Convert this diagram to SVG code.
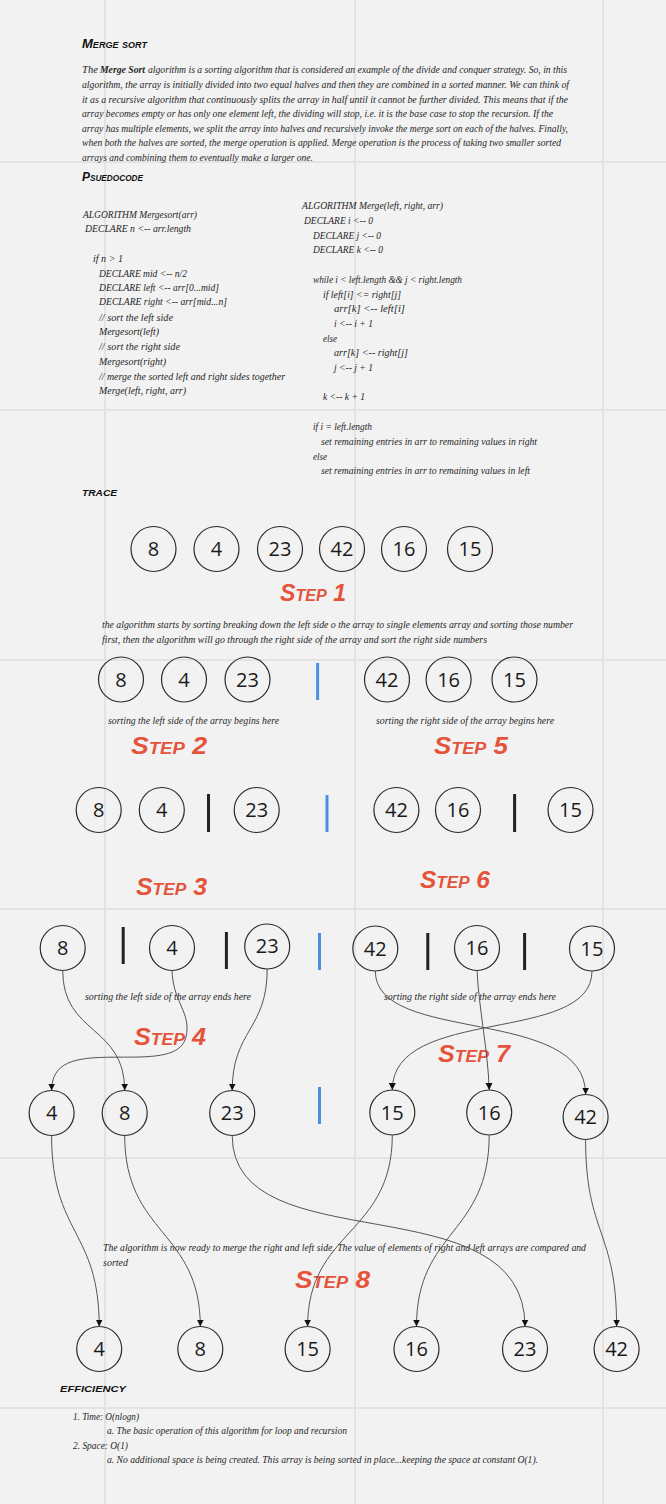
<svg xmlns="http://www.w3.org/2000/svg" width="666" height="1504" viewBox="0 0 666 1504">
<style>
.bg{fill:#f2f2f2}
.grid line{stroke:#e3e3e3;stroke-width:2}
.hand{font-family:"Liberation Serif",serif;font-style:italic;font-size:11px;fill:#262626}
.sm{font-size:10px}
.bold{font-weight:bold}
.head{font-family:"Liberation Sans",sans-serif;font-weight:bold;font-style:italic;font-variant:small-caps;font-size:13px;fill:#111}
.step{font-family:"Liberation Sans",sans-serif;font-weight:bold;font-style:italic;font-variant:small-caps;font-size:23px;fill:#e5533a}
.node circle{fill:none;stroke:#2a2a2a;stroke-width:1.2}
.node text{font-family:"Open Sans",sans-serif;font-size:20px;text-anchor:middle;fill:#1a1a1a}
.conn path{fill:none;stroke:#555;stroke-width:1;marker-end:url(#arr)}
.blue{stroke:#4a90e2;stroke-width:3}
.black{stroke:#222;stroke-width:3}
</style>
<defs>
<marker id="arr" viewBox="0 0 8 8" refX="8" refY="4" markerWidth="7" markerHeight="7" markerUnits="userSpaceOnUse" orient="auto">
<path d="M0,0 L8,4 L0,8 z" fill="#111"/>
</marker>
</defs>
<rect class="bg" x="0" y="0" width="666" height="1504"/>
<g class="grid">
<line x1="105" y1="0" x2="105" y2="1504"/>
<line x1="355" y1="0" x2="355" y2="1504"/>
<line x1="603" y1="0" x2="603" y2="1504"/>
<line x1="0" y1="162" x2="666" y2="162"/>
<line x1="0" y1="410" x2="666" y2="410"/>
<line x1="0" y1="660" x2="666" y2="660"/>
<line x1="0" y1="909" x2="666" y2="909"/>
<line x1="0" y1="1158" x2="666" y2="1158"/>
<line x1="0" y1="1408" x2="666" y2="1408"/>
</g>

<g id="intro">
<text class="head" x="82" y="48" textLength="65" lengthAdjust="spacingAndGlyphs">Merge sort</text>
<text class="hand" x="82" y="73" textLength="16" lengthAdjust="spacingAndGlyphs">The</text>
<text class="hand bold" x="100" y="73" textLength="45" lengthAdjust="spacingAndGlyphs">Merge Sort</text>
<text class="hand" x="148" y="73" textLength="419" lengthAdjust="spacingAndGlyphs">algorithm is a sorting algorithm that is considered an example of the divide and conquer strategy. So, in this</text>
<text class="hand" x="82" y="88" textLength="487" lengthAdjust="spacingAndGlyphs">algorithm, the array is initially divided into two equal halves and then they are combined in a sorted manner. We can think of</text>
<text class="hand" x="82" y="103" textLength="486" lengthAdjust="spacingAndGlyphs">it as a recursive algorithm that continuously splits the array in half until it cannot be further divided. This means that if the</text>
<text class="hand" x="82" y="117" textLength="471" lengthAdjust="spacingAndGlyphs">array becomes empty or has only one element left, the dividing will stop, i.e. it is the base case to stop the recursion. If the</text>
<text class="hand" x="82" y="132" textLength="486" lengthAdjust="spacingAndGlyphs">array has multiple elements, we split the array into halves and recursively invoke the merge sort on each of the halves. Finally,</text>
<text class="hand" x="82" y="146" textLength="479" lengthAdjust="spacingAndGlyphs">when both the halves are sorted, the merge operation is applied. Merge operation is the process of taking two smaller sorted</text>
<text class="hand" x="82" y="161" textLength="231" lengthAdjust="spacingAndGlyphs">arrays and combining them to eventually make a larger one.</text>
</g>

<g id="pseudocode">
<text class="head" x="82" y="181" textLength="61" lengthAdjust="spacingAndGlyphs">Psuedocode</text>
<text class="hand" x="83" y="218" textLength="114" lengthAdjust="spacingAndGlyphs">ALGORITHM Mergesort(arr)</text>
<text class="hand" x="85" y="232" textLength="106" lengthAdjust="spacingAndGlyphs">DECLARE n &lt;-- arr.length</text>
<text class="hand" x="93" y="262" textLength="30" lengthAdjust="spacingAndGlyphs">if n &gt; 1</text>
<text class="hand" x="99" y="277" textLength="88" lengthAdjust="spacingAndGlyphs">DECLARE mid &lt;-- n/2</text>
<text class="hand" x="99" y="291" textLength="120" lengthAdjust="spacingAndGlyphs">DECLARE left &lt;-- arr[0...mid]</text>
<text class="hand" x="99" y="305" textLength="128" lengthAdjust="spacingAndGlyphs">DECLARE right &lt;-- arr[mid...n]</text>
<text class="hand" x="99" y="321" textLength="74" lengthAdjust="spacingAndGlyphs">// sort the left side</text>
<text class="hand" x="99" y="335" textLength="60" lengthAdjust="spacingAndGlyphs">Mergesort(left)</text>
<text class="hand" x="99" y="350" textLength="81" lengthAdjust="spacingAndGlyphs">// sort the right side</text>
<text class="hand" x="99" y="365" textLength="67" lengthAdjust="spacingAndGlyphs">Mergesort(right)</text>
<text class="hand" x="99" y="380" textLength="186" lengthAdjust="spacingAndGlyphs">// merge the sorted left and right sides together</text>
<text class="hand" x="99" y="394" textLength="87" lengthAdjust="spacingAndGlyphs">Merge(left, right, arr)</text>

<text class="hand" x="302" y="209" textLength="141" lengthAdjust="spacingAndGlyphs">ALGORITHM Merge(left, right, arr)</text>
<text class="hand" x="304" y="224" textLength="69" lengthAdjust="spacingAndGlyphs">DECLARE i &lt;-- 0</text>
<text class="hand" x="313" y="239" textLength="68" lengthAdjust="spacingAndGlyphs">DECLARE j &lt;-- 0</text>
<text class="hand" x="313" y="253" textLength="70" lengthAdjust="spacingAndGlyphs">DECLARE k &lt;-- 0</text>
<text class="hand" x="313" y="283" textLength="149" lengthAdjust="spacingAndGlyphs">while i &lt; left.length &amp;&amp; j &lt; right.length</text>
<text class="hand" x="323" y="298" textLength="78" lengthAdjust="spacingAndGlyphs">if left[i] &lt;= right[j]</text>
<text class="hand" x="334" y="312" textLength="71" lengthAdjust="spacingAndGlyphs">arr[k] &lt;-- left[i]</text>
<text class="hand" x="334" y="327" textLength="39" lengthAdjust="spacingAndGlyphs">i &lt;-- i + 1</text>
<text class="hand" x="323" y="342" textLength="14" lengthAdjust="spacingAndGlyphs">else</text>
<text class="hand" x="334" y="356" textLength="74" lengthAdjust="spacingAndGlyphs">arr[k] &lt;-- right[j]</text>
<text class="hand" x="334" y="371" textLength="39" lengthAdjust="spacingAndGlyphs">j &lt;-- j + 1</text>
<text class="hand" x="323" y="400" textLength="42" lengthAdjust="spacingAndGlyphs">k &lt;-- k + 1</text>
<text class="hand" x="313" y="430" textLength="59" lengthAdjust="spacingAndGlyphs">if i = left.length</text>
<text class="hand" x="321" y="445" textLength="216" lengthAdjust="spacingAndGlyphs">set remaining entries in arr to remaining values in right</text>
<text class="hand" x="313" y="460" textLength="14" lengthAdjust="spacingAndGlyphs">else</text>
<text class="hand" x="321" y="474" textLength="209" lengthAdjust="spacingAndGlyphs">set remaining entries in arr to remaining values in left</text>
</g>

<g id="labels">
<text class="head" x="82" y="496" textLength="35" lengthAdjust="spacingAndGlyphs">trace</text>
<text class="step" x="280" y="601" textLength="66" lengthAdjust="spacingAndGlyphs">Step 1</text>
<text class="hand sm" x="102" y="628" textLength="471" lengthAdjust="spacingAndGlyphs">the algorithm starts by sorting breaking down the left side o the array to single elements array and sorting those number</text>
<text class="hand sm" x="102" y="643" textLength="385" lengthAdjust="spacingAndGlyphs">first, then the algorithm will go through the right side of the array and sort the right side numbers</text>
<text class="hand sm" x="108" y="724" textLength="171" lengthAdjust="spacingAndGlyphs">sorting the left side of the array begins here</text>
<text class="hand sm" x="376" y="724" textLength="178" lengthAdjust="spacingAndGlyphs">sorting the right side of the array begins here</text>
<text class="step" x="131" y="754" textLength="76" lengthAdjust="spacingAndGlyphs">Step 2</text>
<text class="step" x="434" y="754" textLength="74" lengthAdjust="spacingAndGlyphs">Step 5</text>
<text class="step" x="136" y="895" textLength="71" lengthAdjust="spacingAndGlyphs">Step 3</text>
<text class="step" x="420" y="888" textLength="70" lengthAdjust="spacingAndGlyphs">Step 6</text>
<text class="hand sm" x="85" y="1000" textLength="166" lengthAdjust="spacingAndGlyphs">sorting the left side of the array ends here</text>
<text class="hand sm" x="384" y="1000" textLength="172" lengthAdjust="spacingAndGlyphs">sorting the right side of the array ends here</text>
<text class="step" x="134" y="1045" textLength="72" lengthAdjust="spacingAndGlyphs">Step 4</text>
<text class="step" x="438" y="1062" textLength="72" lengthAdjust="spacingAndGlyphs">Step 7</text>
<text class="hand sm" x="103" y="1251" textLength="483" lengthAdjust="spacingAndGlyphs">The algorithm is now ready to merge the right and left side. The value of elements of right and left arrays  are compared and</text>
<text class="hand sm" x="103" y="1266" textLength="25" lengthAdjust="spacingAndGlyphs">sorted</text>
<text class="step" x="295" y="1288" textLength="75" lengthAdjust="spacingAndGlyphs">Step 8</text>
</g>

<g id="efficiency">
<text class="head" x="60" y="1392" textLength="66" lengthAdjust="spacingAndGlyphs">efficiency</text>
<text class="hand sm" x="73" y="1420" textLength="66" lengthAdjust="spacingAndGlyphs">1. Time: O(nlogn)</text>
<text class="hand sm" x="107" y="1434" textLength="240" lengthAdjust="spacingAndGlyphs">a. The basic operation of this algorithm for loop and recursion</text>
<text class="hand sm" x="73" y="1449" textLength="55" lengthAdjust="spacingAndGlyphs">2. Space: O(1)</text>
<text class="hand sm" x="107" y="1463" textLength="431" lengthAdjust="spacingAndGlyphs">a. No additional space is being created. This array is being sorted in place...keeping the space at constant O(1).</text>
</g>

<g id="dividers">
<line class="blue" x1="317.6" y1="663" x2="317.6" y2="700"/>
<line class="black" x1="208.5" y1="794" x2="208.5" y2="832"/>
<line class="blue" x1="327" y1="795" x2="327" y2="832"/>
<line class="black" x1="514.6" y1="794" x2="514.6" y2="832"/>
<line class="black" x1="123.2" y1="927" x2="123.2" y2="964"/>
<line class="black" x1="226.4" y1="932" x2="226.4" y2="969"/>
<line class="blue" x1="319.5" y1="933" x2="319.5" y2="970"/>
<line class="black" x1="427.8" y1="933" x2="427.8" y2="970"/>
<line class="black" x1="524.6" y1="933" x2="524.6" y2="970"/>
<line class="blue" x1="319.5" y1="1087" x2="319.5" y2="1124"/>
</g>

<g id="r1n1" class="node"><circle cx="153.5" cy="549" r="22.5"/><text x="153.5" y="556">8</text></g>
<g id="r1n2" class="node"><circle cx="216.5" cy="549" r="22.5"/><text x="216.5" y="556">4</text></g>
<g id="r1n3" class="node"><circle cx="280" cy="549" r="22.5"/><text x="280" y="556">23</text></g>
<g id="r1n4" class="node"><circle cx="342" cy="549" r="22.5"/><text x="342" y="556">42</text></g>
<g id="r1n5" class="node"><circle cx="404" cy="549" r="22.5"/><text x="404" y="556">16</text></g>
<g id="r1n6" class="node"><circle cx="470" cy="549" r="22.5"/><text x="470" y="556">15</text></g>

<g id="r2n1" class="node"><circle cx="121" cy="679.5" r="22.5"/><text x="121" y="686.5">8</text></g>
<g id="r2n2" class="node"><circle cx="184" cy="679.5" r="22.5"/><text x="184" y="686.5">4</text></g>
<g id="r2n3" class="node"><circle cx="247.5" cy="679.5" r="22.5"/><text x="247.5" y="686.5">23</text></g>
<g id="r2n4" class="node"><circle cx="387" cy="679.5" r="22.5"/><text x="387" y="686.5">42</text></g>
<g id="r2n5" class="node"><circle cx="448.6" cy="679.5" r="22.5"/><text x="448.6" y="686.5">16</text></g>
<g id="r2n6" class="node"><circle cx="514.5" cy="679.5" r="22.5"/><text x="514.5" y="686.5">15</text></g>

<g id="r3n1" class="node"><circle cx="98.7" cy="810" r="22.5"/><text x="98.7" y="817">8</text></g>
<g id="r3n2" class="node"><circle cx="161.8" cy="810" r="22.5"/><text x="161.8" y="817">4</text></g>
<g id="r3n3" class="node"><circle cx="256.7" cy="810" r="22.5"/><text x="256.7" y="817">23</text></g>
<g id="r3n4" class="node"><circle cx="396.4" cy="810" r="22.5"/><text x="396.4" y="817">42</text></g>
<g id="r3n5" class="node"><circle cx="458" cy="810" r="22.5"/><text x="458" y="817">16</text></g>
<g id="r3n6" class="node"><circle cx="570.5" cy="810" r="22.5"/><text x="570.5" y="817">15</text></g>

<g id="r4n1" class="node"><circle cx="62.7" cy="948" r="22.5"/><text x="62.7" y="955">8</text></g>
<g id="r4n2" class="node"><circle cx="172" cy="948" r="22.5"/><text x="172" y="955">4</text></g>
<g id="r4n3" class="node"><circle cx="267.2" cy="946.5" r="22.5"/><text x="267.2" y="953">23</text></g>
<g id="r4n4" class="node"><circle cx="375.3" cy="948.5" r="22.5"/><text x="375.3" y="955.5">42</text></g>
<g id="r4n5" class="node"><circle cx="477" cy="948" r="22.5"/><text x="477" y="955">16</text></g>
<g id="r4n6" class="node"><circle cx="592" cy="948.5" r="22.5"/><text x="592" y="955.5">15</text></g>

<g id="r5n1" class="node"><circle cx="51.6" cy="1113" r="22.5"/><text x="51.6" y="1120">4</text></g>
<g id="r5n2" class="node"><circle cx="124.7" cy="1113" r="22.5"/><text x="124.7" y="1120">8</text></g>
<g id="r5n3" class="node"><circle cx="232.2" cy="1113" r="22.5"/><text x="232.2" y="1120">23</text></g>
<g id="r5n4" class="node"><circle cx="392.3" cy="1112.5" r="22.5"/><text x="392.3" y="1119.5">15</text></g>
<g id="r5n5" class="node"><circle cx="489.2" cy="1112.5" r="22.5"/><text x="489.2" y="1119.5">16</text></g>
<g id="r5n6" class="node"><circle cx="585.6" cy="1117" r="22.5"/><text x="585.6" y="1124">42</text></g>

<g id="r6n1" class="node"><circle cx="99.2" cy="1349" r="22.5"/><text x="99.2" y="1356">4</text></g>
<g id="r6n2" class="node"><circle cx="200.3" cy="1349" r="22.5"/><text x="200.3" y="1356">8</text></g>
<g id="r6n3" class="node"><circle cx="307.6" cy="1349" r="22.5"/><text x="307.6" y="1356">15</text></g>
<g id="r6n4" class="node"><circle cx="416.5" cy="1349" r="22.5"/><text x="416.5" y="1356">16</text></g>
<g id="r6n5" class="node"><circle cx="525" cy="1349" r="22.5"/><text x="525" y="1356">23</text></g>
<g id="r6n6" class="node"><circle cx="616.6" cy="1349" r="22.5"/><text x="616.6" y="1356">42</text></g>

<g id="connectors" class="conn">
<path d="M62.7,970.5 C62.7,1035 124.7,1025 124.7,1090.5"/>
<path d="M172,970.5 C173,1000 188,1010 187,1030 C186,1050 172,1056 140,1057 C95,1058 51.6,1052 51.6,1090.5"/>
<path d="M267.2,969 C267.2,1030 232.2,1030 232.2,1090.5"/>
<path d="M375.3,971 C375.3,1045 585.6,1005 585.6,1094.5"/>
<path d="M592,971 C592,1045 392.3,1005 392.3,1090"/>
<path d="M477,970.5 C479,1010 488,1050 489.2,1090"/>
<path d="M51.6,1135.5 C51.6,1235 99.2,1230 99.2,1326.5"/>
<path d="M124.7,1135.5 C124.7,1235 200.3,1230 200.3,1326.5"/>
<path d="M232.2,1135.5 C232.2,1265 525,1180 525,1326.5"/>
<path d="M392.3,1135 C392.3,1235 307.6,1230 307.6,1326.5"/>
<path d="M489.2,1135 C489.2,1235 416.5,1230 416.5,1326.5"/>
<path d="M585.6,1139.5 C585.6,1235 616.6,1230 616.6,1326.5"/>
</g>
</svg>
